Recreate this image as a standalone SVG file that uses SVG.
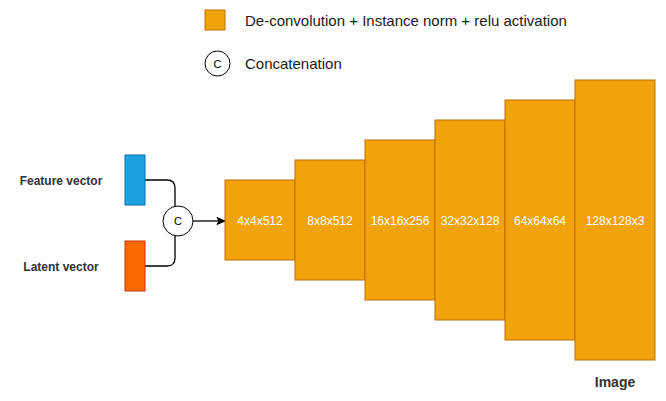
<svg xmlns="http://www.w3.org/2000/svg" width="666" height="401" viewBox="0 0 666 401">
<style>
.blk{fill:#f0a30a;stroke:#bd7000;stroke-width:1}
.bl{font-family:"Liberation Sans",Arial,sans-serif;font-size:12px;fill:#ffffff;text-anchor:middle;dominant-baseline:central}
.lab{font-family:"Liberation Sans",Arial,sans-serif;font-size:12px;font-weight:bold;fill:#333333;text-anchor:middle;dominant-baseline:central}
.leg{font-family:"Liberation Sans",Arial,sans-serif;font-size:15px;fill:#1a1a1a;dominant-baseline:central}
.cc{fill:#ffffff;stroke:#000000;stroke-width:1}
.ct{font-family:"Liberation Sans",Arial,sans-serif;font-size:11px;fill:#000000;text-anchor:middle;dominant-baseline:central}
.wire{fill:none;stroke:#000000;stroke-width:1.3}
</style>
<defs>
<marker id="arr" markerWidth="10" markerHeight="10" refX="9" refY="5" orient="auto" markerUnits="userSpaceOnUse">
<path d="M1,1.5 L9,5 L1,8.5 L3,5 Z" fill="#000000" stroke="#000000" stroke-width="1"/>
</marker>
</defs>
<rect width="666" height="401" fill="#ffffff"/>
<g id="legend">
<rect class="blk" x="205" y="10" width="20" height="20"/>
<text class="leg" x="245" y="20">De-convolution + Instance norm + relu activation</text>
<circle class="cc" cx="217.5" cy="63.5" r="12.5"/>
<text class="ct" x="217.5" y="63.5">C</text>
<text class="leg" x="245" y="63.5">Concatenation</text>
</g>
<g id="connectors">
<path class="wire" d="M145,180 H167 Q175,180 175,188 V206"/>
<path class="wire" d="M145,266 H167 Q175,266 175,258 V236"/>
<path class="wire" d="M193,221 H225" marker-end="url(#arr)"/>
</g>
<g id="feature">
<rect x="125" y="155" width="20" height="50" fill="#1ba1e2" stroke="#006eaf"/>
<text class="lab" x="61" y="181">Feature vector</text>
</g>
<g id="latent">
<rect x="125" y="241" width="20" height="50" fill="#fa6800" stroke="#c73500"/>
<text class="lab" x="61" y="267">Latent vector</text>
</g>
<g id="concat">
<circle class="cc" cx="178" cy="221" r="15"/>
<text class="ct" x="178" y="221">C</text>
</g>
<g id="b1"><rect class="blk" x="225" y="180" width="70" height="80"/><text class="bl" x="260" y="221">4x4x512</text></g>
<g id="b2"><rect class="blk" x="295" y="160" width="70" height="120"/><text class="bl" x="330" y="221">8x8x512</text></g>
<g id="b3"><rect class="blk" x="365" y="140" width="70" height="160"/><text class="bl" x="400" y="221">16x16x256</text></g>
<g id="b4"><rect class="blk" x="435" y="120" width="70" height="200"/><text class="bl" x="470" y="221">32x32x128</text></g>
<g id="b5"><rect class="blk" x="505" y="100" width="70" height="240"/><text class="bl" x="540" y="221">64x64x64</text></g>
<g id="b6"><rect class="blk" x="575" y="80" width="80" height="280"/><text class="bl" x="615" y="221">128x128x3</text></g>
<g id="image-label"><text class="lab" x="615" y="382" style="font-size:14px">Image</text></g>
</svg>
